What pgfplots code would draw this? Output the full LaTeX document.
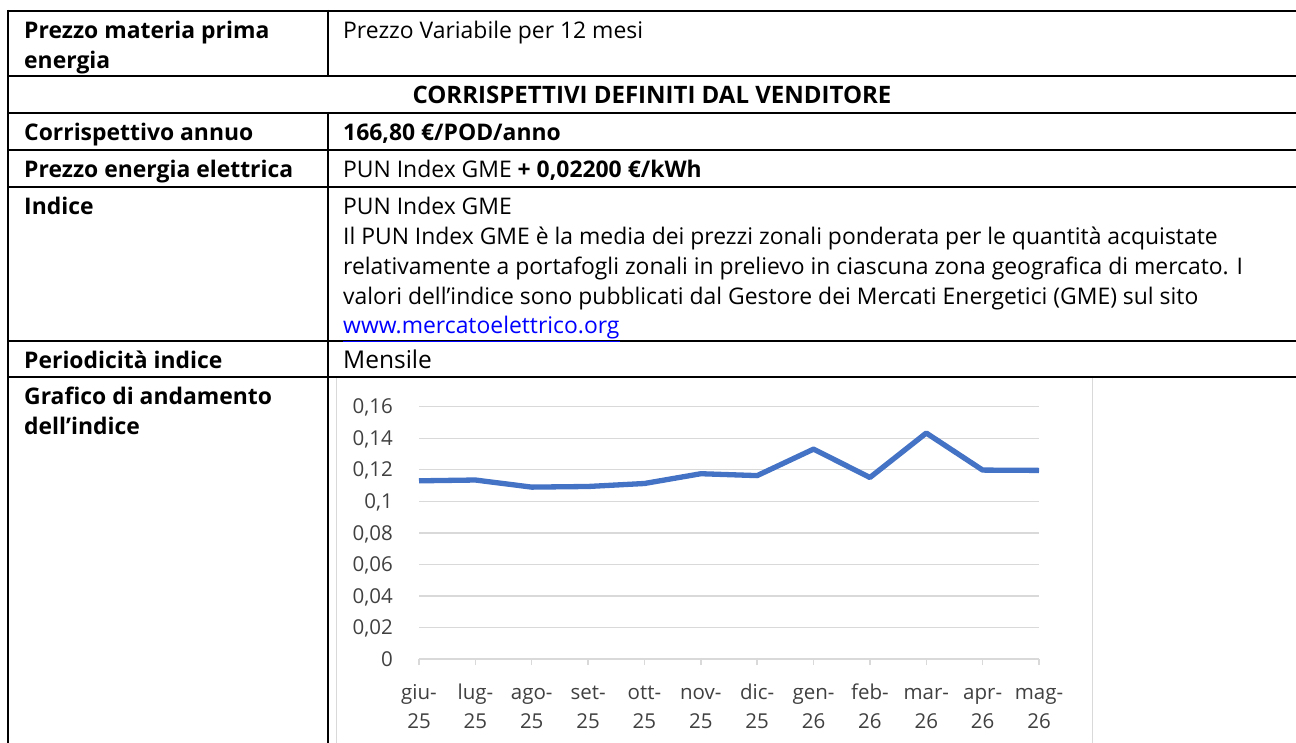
\documentclass[border=0pt]{standalone}
\usepackage{pgfplots}
\pgfplotsset{compat=1.18}
\usepackage{fontspec}
\setmainfont{Open Sans}
\definecolor{lineblue}{HTML}{4472C4}
\definecolor{gridgray}{HTML}{D9D9D9}
\definecolor{labgray}{HTML}{404040}
\definecolor{linkblue}{HTML}{0000FF}
\newcommand\tf{\fontsize{22.9}{30}\selectfont}
\newcommand\cf{\fontsize{20.5}{29.3}\selectfont}
\begin{document}
\begin{tikzpicture}
\begin{scope}[x=1pt,y=1pt]
\useasboundingbox (0,0) rectangle (1296,742);
% chart frame
\draw[gridgray, line width=1.5pt] (336.7,-5) -- (336.7,365) -- (1092.7,365) -- (1092.7,-5);
% table lines
\begin{scope}[line width=2pt, black]
\foreach \y in {731,666,629,592,555,401,365} {\draw (8.3,\y) -- (1300,\y);}
\draw (8.3,732) -- (8.3,-5);
\draw (328,732) -- (328,665);
\draw (328,630) -- (328,-5);
\end{scope}
% texts
\tf
\node[anchor=base west, inner sep=0pt] at (24,703.5) {\bfseries Prezzo materia prima};
\node[anchor=base west, inner sep=0pt] at (24,673.5) {\bfseries energia};
\node[anchor=base west, inner sep=0pt] at (343,703.5) {Prezzo Variabile per 12 mesi};
\node[anchor=base, inner sep=0pt] at (652,638.5) {\fontsize{24}{30}\selectfont\bfseries CORRISPETTIVI DEFINITI DAL VENDITORE};
\node[anchor=base west, inner sep=0pt] at (24,601.5) {\bfseries Corrispettivo annuo};
\node[anchor=base west, inner sep=0pt] at (343,601.5) {\bfseries 166,80 €/POD/anno};
\node[anchor=base west, inner sep=0pt] at (24,564.5) {\bfseries Prezzo energia elettrica};
\node[anchor=base west, inner sep=0pt] at (343,564.5) {PUN Index GME \textbf{+ 0,02200 €/kWh}};
\node[anchor=base west, inner sep=0pt] at (24,527.5) {\bfseries Indice};
\node[anchor=base west, inner sep=0pt] at (343,527.5) {PUN Index GME};
\node[anchor=base west, inner sep=0pt] at (343,497.5) {Il PUN Index GME è la media dei prezzi zonali ponderata per le quantità acquistate};
\node[anchor=base west, inner sep=0pt] at (343,467.5) {relativamente a portafogli zonali in prelievo in ciascuna zona geografica di mercato. I};
\node[anchor=base west, inner sep=0pt] at (343,437.5) {valori dell’indice sono pubblicati dal Gestore dei Mercati Energetici (GME) sul sito};
\node[anchor=base west, inner sep=0pt] at (343,408) {\textcolor{linkblue}{\underline{www.mercatoelettrico.org}}};
\node[anchor=base west, inner sep=0pt] at (24,373) {\bfseries Periodicità indice};
\node[anchor=base west, inner sep=0pt] at (343,373) {\fontsize{24.5}{30}\selectfont Mensile};
\node[anchor=base west, inner sep=0pt] at (24,337.5) {\bfseries Grafico di andamento};
\node[anchor=base west, inner sep=0pt] at (24,307.5) {\bfseries dell’indice};
\end{scope}
\begin{axis}[
  at={(419pt,83pt)}, anchor=south west,
  scale only axis, width=620pt, height=252.3pt,
  xmin=0, xmax=11, ymin=0, ymax=0.16,
  axis line style={draw=none},
  ymajorgrids, grid style={gridgray, line width=1.4pt},
  ytick={0,0.02,0.04,0.06,0.08,0.1,0.12,0.14,0.16},
  scaled y ticks=false,
  ytick style={draw=none},
  xtick={0,...,11},
  xtick pos=bottom, tick align=outside, major tick length=6pt,
  xtick style={gridgray, line width=1.4pt},
  xticklabels={{\strut giu-\\\strut 25},{\strut lug-\\\strut 25},{\strut ago-\\\strut 25},{\strut set-\\\strut 25},{\strut ott-\\\strut 25},{\strut nov-\\\strut 25},{\strut dic-\\\strut 25},{\strut gen-\\\strut 26},{\strut feb-\\\strut 26},{\strut mar-\\\strut 26},{\strut apr-\\\strut 26},{\strut mag-\\\strut 26}},
  xticklabel style={align=center, font=\cf, text=labgray, anchor=north, inner sep=0pt, yshift=-13.8pt},
  yticklabel style={font=\cf, text=labgray, anchor=base east, inner sep=0pt, xshift=-20pt, yshift=-7.2pt,
    /pgf/number format/fixed, /pgf/number format/precision=2, /pgf/number format/use comma, /pgf/number format/assume math mode=true},
  clip=false,
]
\addplot[lineblue, line width=5.3pt, line join=round] coordinates {
(0,0.1130) (1,0.1135) (2,0.1090) (3,0.1094) (4,0.1113) (5,0.1175)
(6,0.1163) (7,0.1331) (8,0.1151) (9,0.1433) (10,0.1198) (11,0.1196)};
\end{axis}
\end{tikzpicture}
\end{document}
